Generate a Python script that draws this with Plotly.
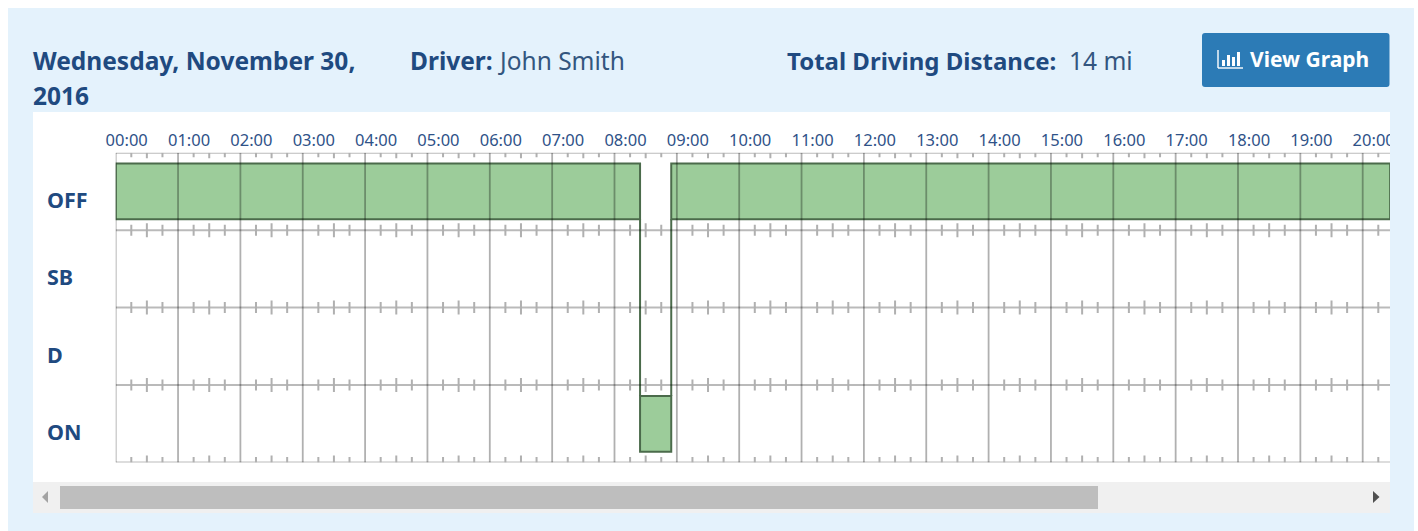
import plotly.graph_objects as go

W, H = 1418, 531
FONT = "Noto Sans"
NAVY = "#1F4A80"
TICK_BLUE = "#2F5288"
PANEL = "#E4F2FC"

# ---- data
STATUS_ROWS = ["OFF", "SB", "D", "ON"]
HOURS = list(range(25))
HOUR_LABELS = [f"{h:02d}:00" for h in HOURS]
SEG_STATUS = ["OFF", "ON", "OFF"]
SEG_START = [0.0, 8.41, 8.91]
SEG_END = [8.41, 8.91, 20.44]
QUARTERS = [0.25, 0.5, 0.75]
DATE_LABEL = ["Wednesday, November 30,", "2016"]
DRIVER = "John Smith"
DISTANCE = "14 mi"

# ---- layout helpers (page pixels -> paper fraction)
px = lambda v: v / W
py = lambda v: 1 - v / H
PLOT_L, PLOT_R, PLOT_T, PLOT_B = 115.7, 1390, 152.7, 462.5
X_MAX = (PLOT_R - PLOT_L) / 62.35
ROW_PX = (PLOT_B - PLOT_T) / 4
LABEL_SHIFT = 11 / 62.35


def rect(x0, y0, x1, y1, color, layer="below"):
    return dict(type="rect", xref="paper", yref="paper", x0=px(x0), x1=px(x1), y0=py(y0), y1=py(y1),
                fillcolor=color, line_width=0, layer=layer)


def poly(points, color, layer="above", width=0):
    path = "M" + " L".join(f"{px(a)},{py(b)}" for a, b in points) + " Z"
    return dict(type="path", xref="paper", yref="paper", path=path, fillcolor=color,
                line=dict(width=width, color=color), layer=layer)


def seg(x0, y0, x1, y1, color="white", width=1.4):
    return dict(type="line", xref="paper", yref="paper", x0=px(x0), x1=px(x1), y0=py(y0), y1=py(y1),
                line=dict(color=color, width=width), layer="above")


def txt(x, y, s, size, color=NAVY, anchor="left", bold=False):
    return dict(xref="paper", yref="paper", x=px(x), y=py(y), text=f"<b>{s}</b>" if bold else s,
                showarrow=False, xanchor=anchor, yanchor="middle",
                font=dict(family=FONT, size=size, color=color))


fig = go.Figure()

# status bars
row_index = {name: i + 0.5 for i, name in enumerate(STATUS_ROWS)}
BAR_H = 0.72
fig.add_trace(go.Bar(
    orientation="h",
    y=[row_index[s] for s in SEG_STATUS],
    base=SEG_START,
    x=[e - s for s, e in zip(SEG_START, SEG_END)],
    width=BAR_H,
    marker=dict(color="#9CCC9A", line=dict(color="#4B6B4B", width=2)),
    hoverinfo="skip",
    showlegend=False,
))

# connectors between consecutive segments
cx, cy = [], []
for i in range(len(SEG_STATUS) - 1):
    a, b = row_index[SEG_STATUS[i]], row_index[SEG_STATUS[i + 1]]
    d = BAR_H / 2 if b > a else -BAR_H / 2
    cx += [SEG_END[i], SEG_END[i], None]
    cy += [a + d, b - d, None]
fig.add_trace(go.Scatter(x=cx, y=cy, mode="lines", line=dict(color="#4B6B4B", width=2),
                         hoverinfo="skip", showlegend=False))

# grid, semi-transparent so it shows through the bars
gx, gy = [], []
for h in HOURS:
    gx += [h, h, None]
    gy += [0, 4, None]
fig.add_trace(go.Scatter(x=gx, y=gy, mode="lines", line=dict(color="rgba(0,0,0,0.31)", width=1.8),
                         hoverinfo="skip", showlegend=False))
hx, hy = [], []
for r in range(len(STATUS_ROWS) + 1):
    hx += [0, 24, None]
    hy += [r, r, None]
fig.add_trace(go.Scatter(x=hx, y=hy, mode="lines", line=dict(color="rgba(0,0,0,0.27)", width=2),
                         hoverinfo="skip", showlegend=False))

# quarter-hour ticks along each row line
tx, ty = [], []
for h in HOURS[:-1]:
    for q in QUARTERS:
        big = q == 0.5
        up = (7 if big else 5.5) / ROW_PX
        down = up
        for r in range(len(STATUS_ROWS) + 1):
            top = 0 if r == 0 else r - up
            bottom = r if r == len(STATUS_ROWS) else r + down
            if r == 0:
                bottom = (5.5 if big else 4.5) / ROW_PX
            tx += [h + q, h + q, None]
            ty += [top, bottom, None]
fig.add_trace(go.Scatter(x=tx, y=ty, mode="lines", line=dict(color="#B0B0B0", width=2),
                         hoverinfo="skip", showlegend=False))

shapes = [
    rect(8, 8, 1414, 531, PANEL),
    rect(33, 112, 1390, 482, "white"),
    rect(33, 482, 1390, 513, "#F0F0F0"),
    rect(60, 486, 1098, 509, "#BEBEBE"),
    poly([(48, 491), (48, 503), (42, 497)], "#A3A3A3"),
    poly([(1373, 491), (1373, 503), (1379.5, 497)], "#505050"),
    # clip of the scrolling chart at its right edge
    rect(1390, 112, 1414, 482, PANEL, layer="above"),
    # button
    dict(type="path", xref="paper", yref="paper", layer="below", fillcolor="#2C7BB6", line_width=0,
         path="M{},{} L{},{} Q{},{} {},{} L{},{} Q{},{} {},{} L{},{} Q{},{} {},{} L{},{} Q{},{} {},{} Z".format(
             px(1205), py(33), px(1386.5), py(33), px(1389.5), py(33), px(1389.5), py(36),
             px(1389.5), py(84), px(1389.5), py(87), px(1386.5), py(87),
             px(1205), py(87), px(1202), py(87), px(1202), py(84),
             px(1202), py(36), px(1202), py(33), px(1205), py(33))),
    # chart-bar icon
    seg(1218, 50, 1218, 68),
    seg(1218, 68, 1243, 68),
    rect(1222, 60, 1225, 66, "white", layer="above"),
    rect(1227, 55, 1230, 66, "white", layer="above"),
    rect(1232, 57, 1235, 66, "white", layer="above"),
    rect(1237, 52, 1240, 66, "white", layer="above"),
]

annotations = [
    txt(31, 61, DATE_LABEL[0], 24.5, bold=True),
    txt(31, 95.5, DATE_LABEL[1], 24.5, bold=True),
    txt(408, 61, "Driver:", 24.5, bold=True),
    txt(495.5, 61, DRIVER, 24.5, color="#33567F"),
    txt(785, 61, "Total Driving Distance:", 24, bold=True),
    txt(1066.5, 61, DISTANCE, 24.5, color="#33567F"),
    txt(1248, 59.5, "View Graph", 21, color="white", bold=True),
]
for name in STATUS_ROWS:
    annotations.append(dict(xref="paper", yref="y", x=px(45), y=row_index[name], yshift=-8,
                            text=f"<b>{name}</b>", showarrow=False, xanchor="left", yanchor="middle",
                            font=dict(family=FONT, size=21.5, color=NAVY)))

fig.update_layout(
    width=W, height=H,
    margin=dict(l=0, r=0, t=0, b=0, autoexpand=False),
    paper_bgcolor="white", plot_bgcolor="rgba(0,0,0,0)",
    barmode="overlay",
    shapes=shapes, annotations=annotations,
    xaxis=dict(domain=[px(PLOT_L), px(PLOT_R)], range=[0, X_MAX], side="top",
               tickvals=[h + LABEL_SHIFT for h in HOURS], ticktext=HOUR_LABELS, tickangle=0,
               ticks="", ticklen=0, showgrid=False, zeroline=False, showline=False, automargin=False,
               ticklabelstandoff=2,
               tickfont=dict(family=FONT, size=16.5, color=TICK_BLUE)),
    yaxis=dict(domain=[py(PLOT_B), py(PLOT_T)], range=[4, 0], showticklabels=False,
               ticks="", showgrid=False, zeroline=False, showline=False, automargin=False),
)

fig.write_html("out.html", config=dict(displayModeBar=False),
               post_script="document.body.style.margin='0';document.body.style.overflow='hidden';")
